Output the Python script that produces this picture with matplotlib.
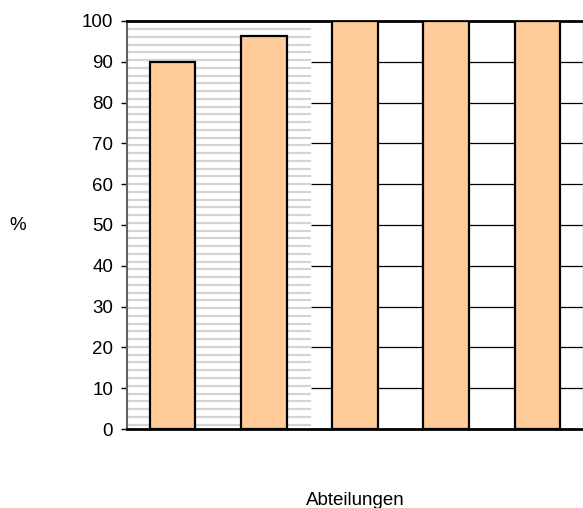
import numpy as np
import matplotlib
matplotlib.use('Agg')
import matplotlib.pyplot as plt

plt.rcParams['font.family'] = ['Liberation Sans', 'DejaVu Sans']

# Anteil je Abteilung in Prozent
abteilungen = ['1', '2', '3', '4', '5']
werte = [90, 96.4, 100, 100, 100]
yticks = [0, 10, 20, 30, 40, 50, 60, 70, 80, 90, 100]

fig = plt.figure(figsize=(5.83, 5.08), dpi=100)
ax = fig.add_axes([127/583, 79/508, 456/583, 408/508])

x = np.arange(len(abteilungen))

# gestreifter Hintergrund links, Gitternetz rechts
for y in np.arange(98, 0, -1.9):
	ax.hlines(y, -0.5, 1.52, color='#d4d4d4', linewidth=1.6, zorder=1)
for y in yticks[1:-1]:
	ax.hlines(y, 1.52, 4.5, color='black', linewidth=0.9, zorder=1)

ax.bar(x, werte, width=0.5, color='#FFCC99', edgecolor='black', linewidth=1.6, zorder=3)

ax.set_xlim(-0.5, 4.5)
ax.set_ylim(0, 100)
ax.set_xticks([])
ax.set_yticks(yticks)
ax.tick_params(axis='y', direction='out', length=4.5, width=1, pad=5.5, labelsize=13.5)

ax.spines['top'].set_linewidth(2)
ax.spines['bottom'].set_linewidth(2)
ax.spines['left'].set_color('#606060')
ax.spines['left'].set_linewidth(1.5)
ax.spines['right'].set_color('#b0b0b0')
ax.spines['right'].set_linewidth(1)

fig.text(17.5/583, 1 - 225/508, '%', fontsize=13.5, ha='center', va='center')
fig.text(355/583, 1 - 505/508, 'Abteilungen', fontsize=13.5, ha='center', va='baseline')

plt.savefig('out.png', dpi=100)
